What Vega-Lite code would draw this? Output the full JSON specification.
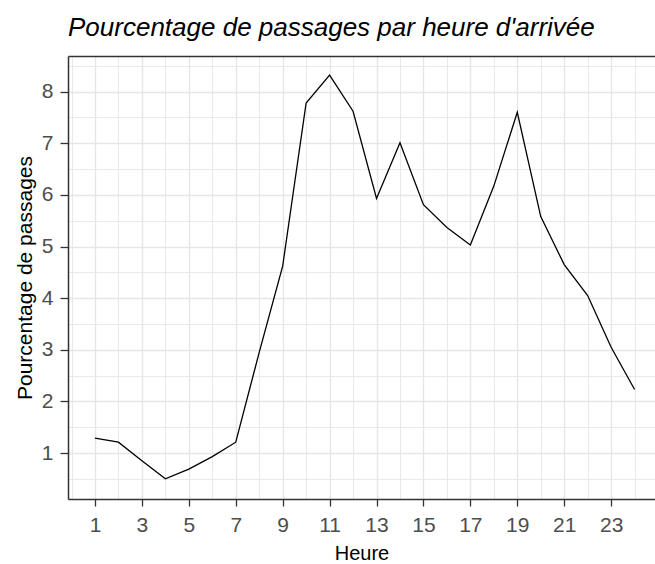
{
  "$schema": "https://vega.github.io/schema/vega-lite/v6.json",
  "width": 587,
  "height": 443,
  "autosize": "none",
  "padding": {"left": 68, "top": 56, "right": 0, "bottom": 65},
  "background": "white",
  "title": {
    "text": "Pourcentage de passages par heure d'arrivée",
    "anchor": "start",
    "frame": "group",
    "font": "Liberation Sans",
    "fontSize": 26,
    "fontStyle": "italic",
    "fontWeight": "normal",
    "color": "#000000",
    "baseline": "alphabetic",
    "offset": -7
  },
  "config": {"view": {"stroke": null}},
  "data": {
    "values": [
      {"heure": 1, "pourcentage": 1.29},
      {"heure": 2, "pourcentage": 1.21},
      {"heure": 3, "pourcentage": 0.85},
      {"heure": 4, "pourcentage": 0.50},
      {"heure": 5, "pourcentage": 0.69},
      {"heure": 6, "pourcentage": 0.93},
      {"heure": 7, "pourcentage": 1.21},
      {"heure": 8, "pourcentage": 2.95},
      {"heure": 9, "pourcentage": 4.62},
      {"heure": 10, "pourcentage": 7.78},
      {"heure": 11, "pourcentage": 8.32},
      {"heure": 12, "pourcentage": 7.62},
      {"heure": 13, "pourcentage": 5.93},
      {"heure": 14, "pourcentage": 7.01},
      {"heure": 15, "pourcentage": 5.81},
      {"heure": 16, "pourcentage": 5.37},
      {"heure": 17, "pourcentage": 5.03},
      {"heure": 18, "pourcentage": 6.17},
      {"heure": 19, "pourcentage": 7.60},
      {"heure": 20, "pourcentage": 5.58},
      {"heure": 21, "pourcentage": 4.65},
      {"heure": 22, "pourcentage": 4.05},
      {"heure": 23, "pourcentage": 3.05},
      {"heure": 24, "pourcentage": 2.23}
    ]
  },
  "encoding": {
    "y": {
      "field": "pourcentage",
      "type": "quantitative",
      "scale": {"domain": [0.11, 8.69], "nice": false, "zero": false},
      "axis": {
        "values": [0.5,1,1.5,2,2.5,3,3.5,4,4.5,5,5.5,6,6.5,7,7.5,8,8.5],
        "labelExpr": "datum.value % 1 == 0 ? format(datum.value, 'd') : ''",
        "labelOverlap": false,
        "labelFlush": false,
        "tickOpacity": {"condition": {"test": "datum.value % 1 == 0", "value": 1}, "value": 0},
        "gridWidth": {"condition": {"test": "datum.value % 1 == 0", "value": 1.4}, "value": 0.9},
        "gridColor": "#E6E6E6",
        "tickColor": "#333333",
        "tickSize": 8,
        "tickWidth": 1.3,
        "domainColor": "#333333",
        "domainWidth": 1.5,
        "labelFont": "Liberation Sans",
        "labelFontSize": 21,
        "labelColor": "#4D4D4D",
        "labelPadding": 7,
        "title": "Pourcentage de passages",
        "titleFont": "Liberation Sans",
        "titleFontSize": 21,
        "titleFontWeight": "normal",
        "titleColor": "#000000",
        "titlePadding": 6
      }
    }
  },
  "layer": [
    {
      "mark": {"type": "line", "color": "#000000", "strokeWidth": 1.3},
      "encoding": {
        "x": {
          "field": "heure",
          "type": "quantitative",
          "scale": {"domain": [-0.15, 24.87], "nice": false, "zero": false},
          "axis": {
            "orient": "bottom",
            "values": [0,1,2,3,4,5,6,7,8,9,10,11,12,13,14,15,16,17,18,19,20,21,22,23,24],
            "labelExpr": "datum.value % 2 == 1 ? format(datum.value, 'd') : ''",
            "labelOverlap": false,
            "labelFlush": false,
            "tickOpacity": {"condition": {"test": "datum.value % 2 == 1", "value": 1}, "value": 0},
            "gridWidth": {"condition": {"test": "datum.value % 2 == 1", "value": 1.4}, "value": 0.9},
            "gridColor": "#E6E6E6",
            "tickColor": "#333333",
            "tickSize": 7,
            "tickWidth": 1.3,
            "domainColor": "#333333",
            "domainWidth": 1.5,
            "labelFont": "Liberation Sans",
            "labelFontSize": 21,
            "labelColor": "#4D4D4D",
            "labelPadding": 8,
            "title": "Heure",
            "titleFont": "Liberation Sans",
            "titleFontSize": 20,
            "titleFontWeight": "normal",
            "titleColor": "#000000",
            "titlePadding": 8
          }
        }
      }
    },
    {
      "mark": {"type": "line", "opacity": 0},
      "encoding": {
        "x": {
          "field": "heure",
          "type": "quantitative",
          "axis": {
            "orient": "top",
            "labels": false,
            "ticks": false,
            "grid": false,
            "title": null,
            "domainColor": "#333333",
            "domainWidth": 1.5
          }
        }
      }
    }
  ],
  "resolve": {"axis": {"x": "independent"}}
}
